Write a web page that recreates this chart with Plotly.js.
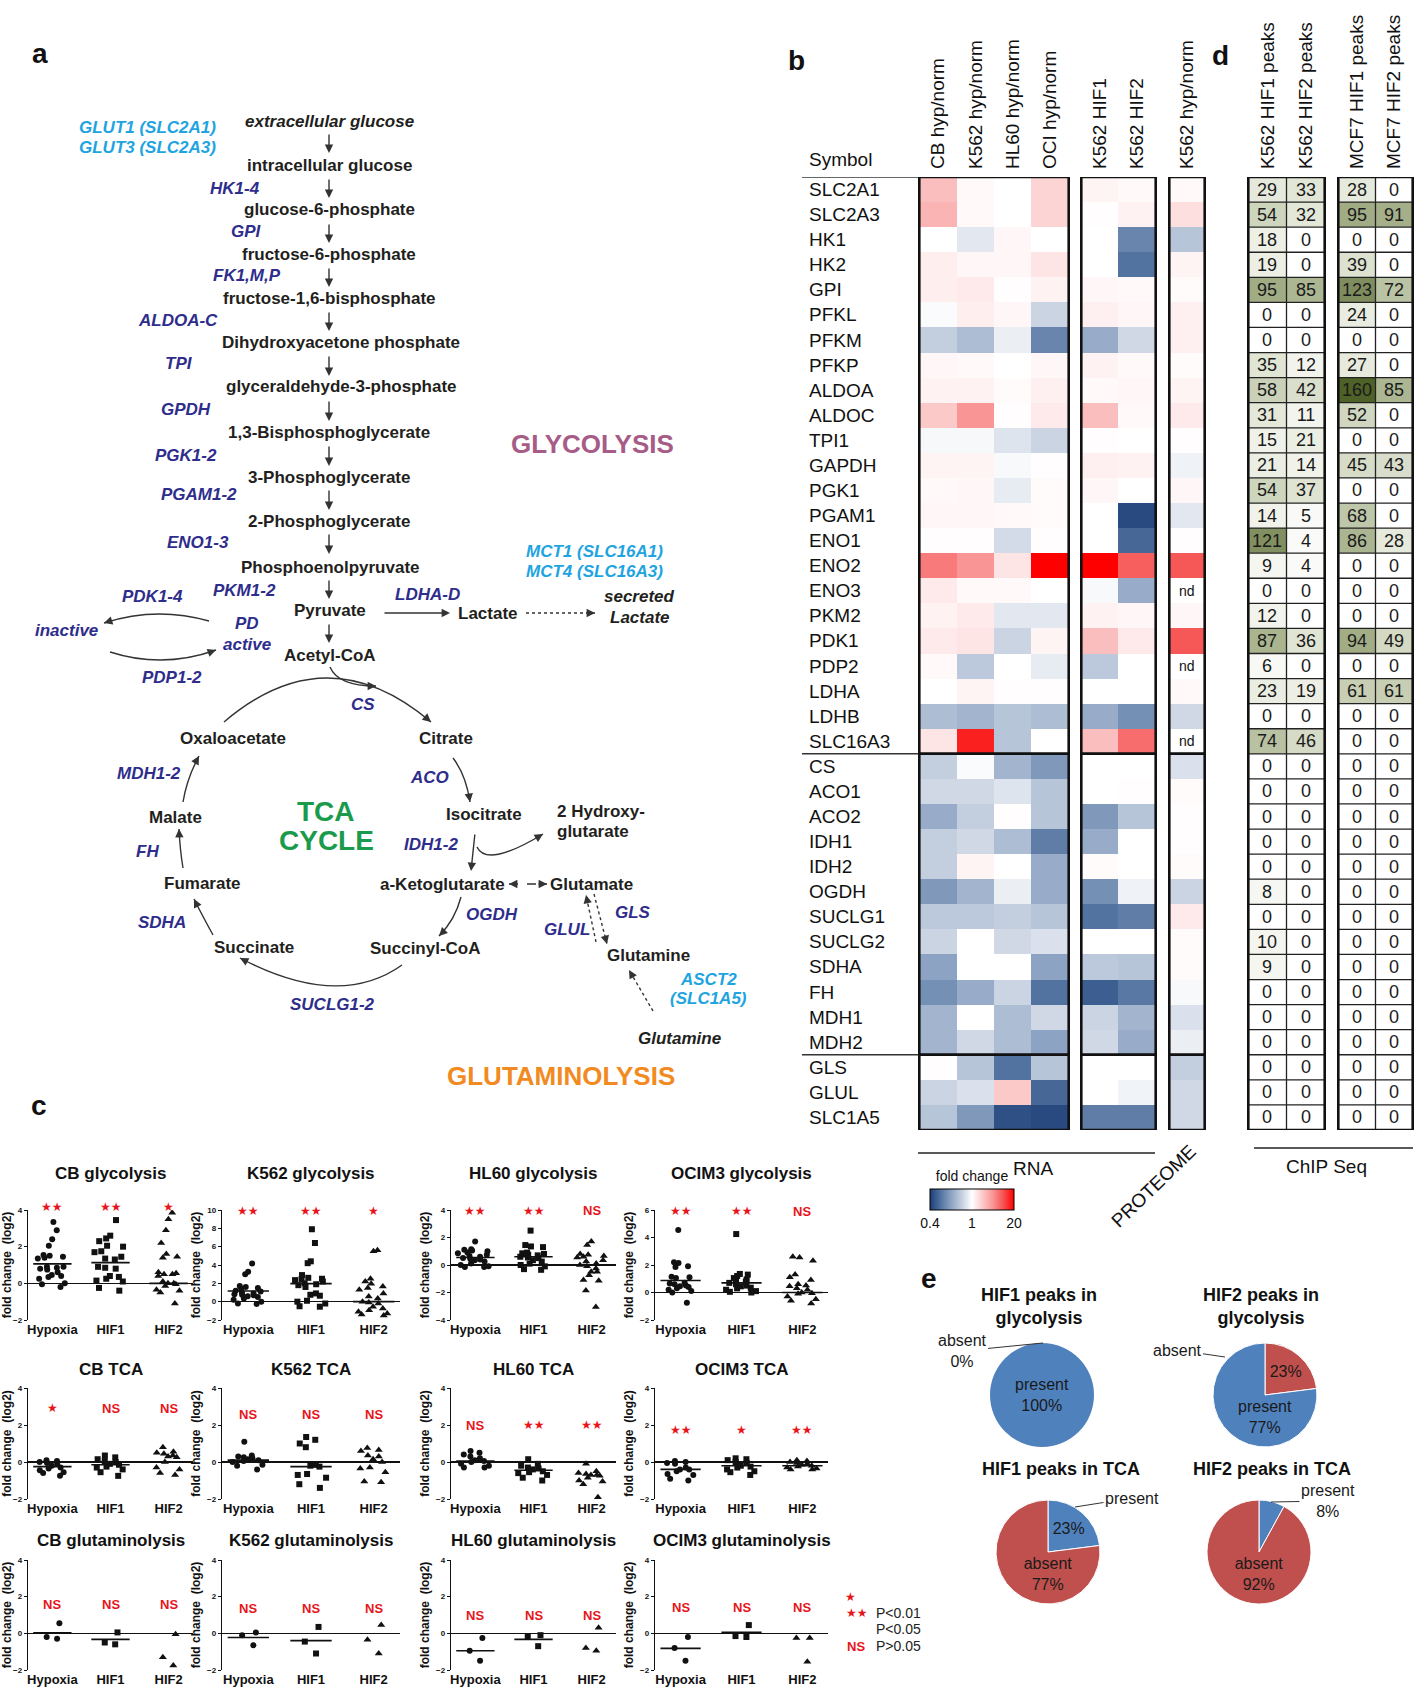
<!DOCTYPE html>
<html>
<head>
<meta charset="utf-8">
<script src="https://cdn.plot.ly/plotly-3.0.1.min.js"></script>
<style>html,body{margin:0;padding:0;background:#fff}</style>
</head>
<body>
<div id="chart" style="width:1418px;height:1691px"></div>
<script>
// ================= DATA =================
// Panel b: genes (rows) and heatmap values (log2 fold change)
const genes = ['SLC2A1','SLC2A3','HK1','HK2','GPI','PFKL','PFKM','PFKP','ALDOA','ALDOC','TPI1','GAPDH','PGK1','PGAM1','ENO1','ENO2','ENO3','PKM2','PDK1','PDP2','LDHA','LDHB','SLC16A3','CS','ACO1','ACO2','IDH1','IDH2','OGDH','SUCLG1','SUCLG2','SDHA','FH','MDH1','MDH2','GLS','GLUL','SLC1A5'];
const sectionSizes = [23, 12, 3]; // glycolysis, TCA, glutaminolysis
const rnaConditions = ['CB hyp/norm','K562 hyp/norm','HL60 hyp/norm','OCI hyp/norm'];
const hifConditions = ['K562 HIF1','K562 HIF2'];
const protConditions = ['K562 hyp/norm'];
const rnaCB   = [1.30,1.51,0,0.35,0.35,-0.03,-0.33,0.17,0.26,1.08,-0.05,0.22,0.13,0.17,0.04,2.59,0.43,0.26,0.43,0.13,0,-0.46,0.52,-0.33,-0.26,-0.59,-0.33,-0.33,-0.73,-0.37,-0.29,-0.66,-0.79,-0.53,-0.53,0.04,-0.29,-0.40];
const rnaK562 = [0.13,0.13,-0.16,0.17,0.43,0.35,-0.46,0.13,0.26,2.16,-0.05,0.22,0.17,0.17,0.04,2.16,0.13,0.43,0.52,-0.37,0.22,-0.53,3.89,-0.03,-0.26,-0.33,-0.26,0.22,-0.53,-0.37,0,0,-0.59,0,-0.26,-0.40,-0.20,-0.73];
const rnaHL60 = [0,0,0.17,0.17,0.04,0.17,-0.11,0,0.09,0.04,-0.18,-0.04,-0.13,0.13,-0.24,0.52,0.13,-0.16,-0.29,0,0.04,-0.40,-0.40,-0.53,-0.18,0.04,-0.46,0,-0.11,-0.33,-0.26,0,-0.29,-0.46,-0.46,-0.99,1.08,-1.21];
const rnaOCI  = [0.86,0.86,0,0.52,0.26,-0.29,-0.86,0.17,0.30,0.43,-0.29,0.04,0.09,0.09,0.04,4.32,0,-0.16,0.22,-0.13,0.04,-0.46,0,-0.73,-0.40,-0.40,-0.92,-0.59,-0.59,-0.40,-0.20,-0.66,-0.99,-0.26,-0.66,-0.40,-1.06,-1.25];
const k562HIF1 = [0.22,0.04,0,0,0.17,0.30,-0.59,0.26,0.13,1.30,0.04,0.30,0.17,0,0,4.32,-0.04,0.26,1.30,-0.37,0,-0.59,1.30,0,0,-0.73,-0.59,0.09,-0.79,-0.99,0,-0.37,-1.12,-0.29,-0.26,0,0,-0.92];
const k562HIF2 = [0.13,0.26,-0.86,-0.99,0.13,0.17,-0.26,0.13,0.17,0.13,0,0.26,0,-1.25,-1.06,3.02,-0.59,0.17,0.43,0,0,-0.79,2.81,0,0.04,-0.40,0,0,-0.09,-0.92,0,-0.40,-0.95,-0.53,-0.59,0,-0.08,-0.92];
const proteome = [0.13,0.65,-0.40,0.22,0.09,0.30,0.30,0.09,0.22,0.43,0.04,-0.09,0.17,-0.16,0.04,3.11,null,0.17,3.11,null,0.13,-0.26,null,-0.20,0.09,0.04,0.04,0.09,-0.29,0.43,0.09,0.09,-0.04,-0.20,-0.11,-0.33,-0.26,-0.26];

// Panel d: ChIP-seq peak counts
const chipK562Labels = ['K562 HIF1 peaks','K562 HIF2 peaks'];
const chipMCF7Labels = ['MCF7 HIF1 peaks','MCF7 HIF2 peaks'];
const chipK562HIF1 = [29,54,18,19,95,0,0,35,58,31,15,21,54,14,121,9,0,12,87,6,23,0,74,0,0,0,0,0,8,0,10,9,0,0,0,0,0,0];
const chipK562HIF2 = [33,32,0,0,85,0,0,12,42,11,21,14,37,5,4,4,0,0,36,0,19,0,46,0,0,0,0,0,0,0,0,0,0,0,0,0,0,0];
const chipMCF7HIF1 = [28,95,0,39,123,24,0,27,160,52,0,45,0,68,86,0,0,0,94,0,61,0,0,0,0,0,0,0,0,0,0,0,0,0,0,0,0,0];
const chipMCF7HIF2 = [0,91,0,0,72,0,0,0,85,0,0,43,0,0,28,0,0,0,49,0,61,0,0,0,0,0,0,0,0,0,0,0,0,0,0,0,0,0];

// Panel c: per-gene fold change (log2), groups Hypoxia / HIF1 / HIF2
const groupNames = ['Hypoxia','HIF1','HIF2'];
const cbGly = [[3.35,2.9,2.4,2.05,1.55,1.5,1.45,1.4,1.35,0.9,0.9,0.85,0.8,0.75,0.6,0.45,0.4,0.35,0.25,0.0,-0.05,-0.2],
               [3.45,2.6,2.45,2.3,2.05,2.0,1.75,1.7,1.45,1.35,1.3,0.9,0.85,0.8,0.4,0.35,0.25,0.15,0.1,-0.25,-0.4],
               [3.85,3.5,2.9,2.2,1.6,1.45,1.4,0.6,0.55,0.5,0.5,0.4,0.1,0.0,0.0,-0.05,-0.15,-0.35,-0.4,-0.5,-1.1]];
const cbGlyLine = [1.06,1.13,0.0];
const k562Gly = [[4.15,3.25,3.0,1.7,1.6,1.5,1.4,1.2,1.1,1.0,0.9,0.8,0.75,0.7,0.6,0.5,0.35,0.2,0.0,-0.2,-0.25],
                 [7.9,6.4,4.4,4.2,2.9,2.6,2.5,2.45,2.35,2.2,2.0,1.9,1.8,1.6,0.9,0.75,0.65,0.1,0.0,-0.2,-0.5,-0.55],
                 [5.6,5.5,2.5,2.2,1.95,1.65,1.5,1.3,0.9,0.55,0.35,0.0,-0.1,-0.2,-0.55,-0.75,-0.95,-1.1,-1.3,-1.4,-1.5]];
const k562GlyLine = [1.17,1.97,0.0];
const hl60Gly = [[1.7,1.15,1.1,1.05,1.0,0.9,0.85,0.75,0.65,0.6,0.5,0.45,0.4,0.35,0.25,0.1,0.0,-0.1,-0.15,-0.15],
                 [2.5,1.45,1.35,1.3,0.9,0.85,0.8,0.75,0.7,0.6,0.55,0.5,0.35,0.25,0.1,0.0,-0.1,-0.3,-0.35],
                 [1.7,1.45,0.8,0.75,0.65,0.6,0.55,0.35,0.25,0.1,0.0,-0.1,-0.25,-0.5,-0.5,-0.75,-1.1,-1.15,-1.85,-3.05]];
const hl60GlyLine = [0.54,0.6,0.0];
const ociGly = [[4.55,2.2,2.15,1.9,1.85,1.15,1.1,1.05,0.7,0.65,0.6,0.5,0.45,0.4,0.3,0.2,0.1,0.0,-0.75],
                [4.25,1.35,1.3,1.2,1.05,0.95,0.85,0.8,0.7,0.6,0.5,0.45,0.35,0.3,0.2,0.1,0.05,0.0],
                [2.6,2.55,2.3,1.3,1.1,0.9,0.6,0.5,0.45,0.3,0.2,0.0,-0.05,-0.1,-0.3,-0.5,-0.6,-0.8]];
const ociGlyLine = [0.87,0.7,0.0];
const cbTca = [[0.1,0.05,0.0,-0.05,-0.1,-0.2,-0.3,-0.35,-0.45,-0.55,-0.6,-0.75],
               [0.35,0.25,0.15,0.05,0.0,-0.1,-0.15,-0.25,-0.3,-0.4,-0.55,-0.75],
               [0.8,0.55,0.5,0.45,0.35,0.3,0.25,0.0,-0.3,-0.4,-0.6,-0.7]];
const cbTcaLine = [-0.25,-0.15,0.0];
const k562Tca = [[1.1,0.35,0.3,0.25,0.2,0.15,0.1,0.05,0.0,-0.15,-0.2,-0.4],
                 [1.35,1.2,1.0,0.8,-0.15,-0.2,-0.25,-0.65,-0.7,-0.85,-1.2,-1.4],
                 [0.75,0.65,0.6,0.35,0.3,0.15,0.0,-0.3,-0.35,-0.55,-1.05,-1.1]];
const k562TcaLine = [0.1,-0.25,0.0];
const hl60Tca = [[0.6,0.5,0.4,0.3,0.2,0.1,0.05,0.0,-0.1,-0.2,-0.3,-0.3],
                 [0.15,-0.1,-0.2,-0.3,-0.35,-0.4,-0.5,-0.55,-0.6,-0.7,-0.85,-1.0],
                 [-0.1,-0.5,-0.6,-0.65,-0.7,-0.7,-0.75,-0.85,-1.0,-1.05,-1.2,-1.9]];
const hl60TcaLine = [0.05,-0.45,null];
const ociTca = [[0.05,0.0,-0.05,-0.1,-0.3,-0.4,-0.4,-0.5,-0.65,-0.7,-0.9,-1.0],
                [0.2,0.15,0.1,0.0,-0.05,-0.2,-0.25,-0.3,-0.4,-0.5,-0.55,-0.7],
                [0.1,0.05,0.0,-0.05,-0.1,-0.15,-0.2,-0.25,-0.3,-0.35,-0.4,-0.4]];
const ociTcaLine = [-0.4,-0.2,-0.2];
const cbGln = [[0.55,-0.2,-0.3],[0.05,-0.5,-0.6],[-0.05,-1.3,-1.75]];
const cbGlnLine = [0.03,-0.33,null];
const k562Gln = [[0.05,-0.1,-0.65],[0.35,-0.45,-1.1],[0.45,-0.35,-1.1]];
const k562GlnLine = [-0.23,-0.4,null];
const hl60Gln = [[-0.25,-0.95,-1.5],[-0.1,-0.2,-0.7],[0.3,-0.8,-0.95]];
const hl60GlnLine = [-0.95,-0.33,null];
const ociGln = [[-0.2,-0.8,-1.5],[0.45,-0.15,-0.2],[-0.25,-0.25,-1.55]];
const ociGlnLine = [-0.82,0.05,null];
const sigGlyCB = ['★★','★★','★'], sigGlyK562 = ['★★','★★','★'], sigGlyHL60 = ['★★','★★','NS'], sigGlyOCI = ['★★','★★','NS'];
const sigTcaCB = ['★','NS','NS'], sigTcaK562 = ['NS','NS','NS'], sigTcaHL60 = ['NS','★★','★★'], sigTcaOCI = ['★★','★','★★'];
const sigGln = ['NS','NS','NS'];

// Panel e: pies
const pieHif1GlyLabels = ['present','absent'], pieHif1GlyValues = [100, 0];
const pieHif2GlyLabels = ['absent','present'], pieHif2GlyValues = [23, 77];
const pieHif1TcaLabels = ['present','absent'], pieHif1TcaValues = [23, 77];
const pieHif2TcaLabels = ['present','absent'], pieHif2TcaValues = [8, 92];

// ================= HELPERS =================
const W = 1418, H = 1691;
const FONT = 'Liberation Sans, Arial, Helvetica, sans-serif';
const px = x => x / W, py = y => 1 - y / H;
const domX = (a, b) => [a / W, b / W];
const domY = (top, bot) => [1 - bot / H, 1 - top / H];
const traces = [], annotations = [], shapes = [];
const layout = {
  width: W, height: H, margin: {l: 0, r: 0, t: 0, b: 0},
  paper_bgcolor: '#fff', plot_bgcolor: 'rgba(0,0,0,0)', showlegend: false,
  font: {family: FONT, color: '#222'}, annotations, shapes
};
function txt(text, x, y, opts) {
  annotations.push(Object.assign({text, x: px(x), y: py(y), xref: 'paper', yref: 'paper', showarrow: false,
    xanchor: 'center', yanchor: 'middle', font: {family: FONT, size: 17, color: '#222'}}, opts || {}));
}
function arrow(x1, y1, x2, y2, extra) {
  annotations.push(Object.assign({x: px(x2), y: py(y2), xref: 'paper', yref: 'paper', ax: x1 - x2, ay: y1 - y2,
    text: '', showarrow: true, arrowhead: 2, arrowsize: 1.2, arrowwidth: 1.4, arrowcolor: '#333', standoff: 0}, extra || {}));
}
function headAt(x, y, dirx, diry) { const L = Math.hypot(dirx, diry); arrow(x - 10 * dirx / L, y - 10 * diry / L, x, y); }
function curve(x0, y0, cx, cy, x1, y1) {
  shapes.push({type: 'path', xref: 'paper', yref: 'paper', fillcolor: 'rgba(0,0,0,0)',
    path: `M${px(x0)},${py(y0)} Q${px(cx)},${py(cy)} ${px(x1)},${py(y1)}`, line: {color: '#333', width: 1.4}});
  headAt(x1, y1, x1 - cx, y1 - cy);
}
function dline(x0, y0, x1, y1, dash, head) {
  shapes.push({type: 'line', xref: 'paper', yref: 'paper', x0: px(x0), y0: py(y0), x1: px(x1), y1: py(y1), line: {color: '#333', width: 1.4, dash}});
  if (head) headAt(x1, y1, x1 - x0, y1 - y0);
}

// ================= PANEL LETTERS =================
[['a', 40, 54], ['b', 796, 61], ['c', 39, 1105], ['d', 1220, 56], ['e', 929, 1278]].forEach(p =>
  txt('<b>' + p[0] + '</b>', p[1], p[2], {font: {family: FONT, size: 28, color: '#111'}}));

// ================= PANEL a: pathway diagram =================
const styleMap = {
  m:   ['<b>', '</b>', '#231f20', 17], mi: ['<b><i>', '</i></b>', '#231f20', 17],
  e:   ['<b><i>', '</i></b>', '#2e2d8c', 17], c: ['<b><i>', '</i></b>', '#1ea4e0', 17],
  tca: ['<b>', '</b>', '#1a9b4b', 28], gly: ['<b>', '</b>', '#a65c86', 26], gln: ['<b>', '</b>', '#f28a22', 26]
};
const diagramLabels = [
  ['extracellular glucose',329,121,'mi'],['GLUT1 (SLC2A1)',77,127,'c','left'],['GLUT3 (SLC2A3)',77,147,'c','left'],
  ['intracellular glucose',329,165,'m'],['HK1-4',235,188,'e'],['glucose-6-phosphate',329,210,'m'],['GPI',246,232,'e'],
  ['fructose-6-phosphate',329,254,'m'],['FK1,M,P',247,275,'e'],['fructose-1,6-bisphosphate',329,298,'m'],['ALDOA-C',178,320,'e'],
  ['Dihydroxyacetone phosphate',341,343,'m'],['TPI',179,364,'e'],['glyceraldehyde-3-phosphate',341,387,'m'],['GPDH',186,410,'e'],
  ['1,3-Bisphosphoglycerate',329,432,'m'],['PGK1-2',186,455,'e'],['3-Phosphoglycerate',329,477,'m'],['PGAM1-2',199,495,'e'],
  ['2-Phosphoglycerate',329,522,'m'],['ENO1-3',198,543,'e'],['Phosphoenolpyruvate',330,567,'m'],
  ['MCT1 (SLC16A1)',594,551,'c'],['MCT4 (SLC16A3)',594,571,'c'],['PKM1-2',244,590,'e'],['PDK1-4',152,597,'e'],['LDHA-D',428,594,'e'],
  ['Pyruvate',330,610,'m'],['Lactate',488,613,'m'],['secreted',639,596,'mi'],['Lactate',640,617,'mi'],
  ['PD',247,623,'e'],['active',247,644,'e'],['inactive',66,630,'e'],['PDP1-2',172,677,'e'],['Acetyl-CoA',330,655,'m'],
  ['CS',363,704,'e'],['Oxaloacetate',233,738,'m'],['Citrate',446,738,'m'],['ACO',430,777,'e'],['Isocitrate',484,814,'m'],
  ['2 Hydroxy-',555,811,'m','left'],['glutarate',555,831,'m','left'],['IDH1-2',431,844,'e'],['a-Ketoglutarate',442,884,'m'],
  ['Glutamate',591,884,'m'],['GLS',633,912,'e'],['GLUL',567,929,'e'],['Glutamine',648,955,'m'],['OGDH',492,914,'e'],
  ['Succinyl-CoA',426,948,'m'],['Succinate',254,947,'m'],['SDHA',162,922,'e'],['Fumarate',202,883,'m'],['FH',147,851,'e'],
  ['Malate',175,817,'m'],['MDH1-2',149,774,'e'],['SUCLG1-2',332,1004,'e'],['ASCT2',708,979,'c'],['(SLC1A5)',708,998,'c'],
  ['Glutamine',679,1038,'mi'],['TCA',326,811,'tca'],['CYCLE',326,840,'tca'],['GLYCOLYSIS',592,444,'gly'],['GLUTAMINOLYSIS',561,1076,'gln']
];
diagramLabels.forEach(d => {
  const s = styleMap[d[3]];
  txt(s[0] + d[0] + s[1], d[1], d[2], {xanchor: d[4] || 'center', font: {family: FONT, size: s[3], color: s[2]}});
});
const straightArrows = [[329,133,329,153],[329,178,329,198],[329,223,329,243],[329,267,329,287],[329,311,329,331],
  [329,355,329,376],[329,400,329,421],[329,445,329,466],[329,489,329,510],[329,533,329,554],[329,579,329,599],
  [329,623,329,643],[383,613,450,613],[475,833,471,871]];
straightArrows.forEach(a => arrow(a[0], a[1], a[2], a[3]));
const curvedArrows = [[209,621,156,606,104,623],[110,652,163,669,216,650],[330,667,338,686,376,686],
  [224,722,327,634,431,722],[453,758,466,775,470,802],[477,847,487,868,543,834],[461,897,455,920,439,936],
  [402,965,339,1010,240,958],[213,935,202,915,194,899],[183,868,180,850,179,829],[183,802,187,778,199,756]];
curvedArrows.forEach(c => curve(...c));
dline(526, 613, 595, 613, 'dot', true);
dline(596, 942, 586, 895, 'dot', true);
dline(594, 894, 607, 944, 'dot', true);
dline(653, 1011, 629, 970, 'dot', true);
dline(509, 884, 547, 884, 'dash', true);
headAt(509, 884, -1, 0);

// ================= PANEL b: heatmaps =================
const lo = -Math.log2(0.4), hi = Math.log2(20);
const toColor = v => v === null ? null : Math.max(-1, Math.min(1, v < 0 ? v / lo : v / hi));
const fcScale = [[0,'#1c3f78'],[0.125,'#52729f'],[0.25,'#8ca3c3'],[0.375,'#c3cedf'],[0.5,'#ffffff'],
                 [0.625,'#fcc9c9'],[0.75,'#f99595'],[0.875,'#f65050'],[1,'#ff0000']];
const heatY = domY(177, 1130);
const matrix = cols => genes.map((g, i) => cols.map(c => c[i]));
const hmBlocks = [
  {ax: '', cols: rnaConditions, data: [rnaCB, rnaK562, rnaHL60, rnaOCI], dom: [918, 1070]},
  {ax: '2', cols: hifConditions, data: [k562HIF1, k562HIF2], dom: [1080, 1157]},
  {ax: '3', cols: protConditions, data: [proteome], dom: [1168, 1206]}
];
const xHeatAxis = dom => ({domain: domX(dom[0], dom[1]), anchor: 'y', side: 'top', type: 'category', tickangle: -90,
  showgrid: false, zeroline: false, showline: false, ticks: '', ticklabelstandoff: 7,
  tickfont: {family: FONT, size: 19, color: '#111'}, fixedrange: true});
layout.yaxis = {domain: heatY, anchor: 'x', type: 'category', categoryorder: 'array', categoryarray: genes,
  range: [genes.length - 0.5, -0.5], showticklabels: false, showgrid: false, zeroline: false, showline: false, ticks: '', fixedrange: true};
hmBlocks.forEach((b, k) => {
  traces.push({type: 'heatmap', x: b.cols, y: genes, z: matrix(b.data).map(r => r.map(toColor)), zmin: -1, zmax: 1,
    colorscale: fcScale, xaxis: 'x' + b.ax, yaxis: 'y', hoverinfo: 'skip', showscale: k === 0,
    colorbar: {orientation: 'h', x: px(972), xanchor: 'center', y: py(1200), yanchor: 'middle', len: 84, lenmode: 'pixels',
      thickness: 21, thicknessmode: 'pixels', outlinewidth: 1, outlinecolor: '#000', tickvals: [-1, 0, 1], ticktext: ['0.4', '1', '20'],
      ticks: '', tickfont: {family: FONT, size: 14, color: '#111'}, xpad: 0, ypad: 0,
      title: {text: 'fold change', side: 'top', font: {family: FONT, size: 14, color: '#111'}}}});
  layout['xaxis' + b.ax] = xHeatAxis(b.dom);
});
// section boxes
let start = 0;
const bounds = [];
sectionSizes.forEach(n => { bounds.push([start, start + n - 1]); start += n; });
hmBlocks.forEach(b => bounds.forEach(s => shapes.push({type: 'rect', xref: 'x' + b.ax, yref: 'y', layer: 'above',
  x0: -0.5, x1: b.cols.length - 0.5, y0: s[0] - 0.5, y1: s[1] + 0.5, line: {color: '#111', width: 2.6}, fillcolor: 'rgba(0,0,0,0)'})));
// label column separators
[-0.5].concat(bounds.slice(0, -1).map(s => s[1] + 0.5)).forEach(yv => shapes.push({type: 'line', xref: 'paper', yref: 'y',
  x0: px(802), x1: px(918), y0: yv, y1: yv, line: {color: '#333', width: 1.6}}));
genes.forEach((g, i) => annotations.push({text: g, x: px(807), y: i, xref: 'paper', yref: 'y', xanchor: 'left', yanchor: 'middle',
  showarrow: false, font: {family: FONT, size: 19, color: '#111'}}));
txt('Symbol', 807, 160, {xanchor: 'left', font: {family: FONT, size: 19, color: '#111'}});
proteome.forEach((v, i) => { if (v === null) annotations.push({text: 'nd', x: 0, y: i, xref: 'x3', yref: 'y', showarrow: false,
  font: {family: FONT, size: 14, color: '#111'}}); });
shapes.push({type: 'line', xref: 'paper', yref: 'paper', x0: px(918), x1: px(1155), y0: py(1153), y1: py(1153), line: {color: '#222', width: 1.4}});
txt('RNA', 1033, 1168, {font: {family: FONT, size: 19, color: '#111'}});
txt('PROTEOME', 1153, 1186, {textangle: -44, font: {family: FONT, size: 19, color: '#111'}});

// ================= PANEL d: ChIP tables =================
const chipScale = [[0,'#ffffff'],[0.06,'#f4f5ef'],[0.2,'#e3e7d8'],[0.35,'#ccd3bb'],[0.55,'#a9b38e'],[0.75,'#839163'],[1,'#4e6126']];
const chipBlocks = [
  {ax: '4', cols: chipK562Labels, data: [chipK562HIF1, chipK562HIF2], dom: [1247, 1326]},
  {ax: '5', cols: chipMCF7Labels, data: [chipMCF7HIF1, chipMCF7HIF2], dom: [1337, 1414]}
];
chipBlocks.forEach(b => {
  traces.push({type: 'heatmap', x: b.cols, y: genes, z: matrix(b.data), zmin: 0, zmax: 160, colorscale: chipScale,
    showscale: false, xaxis: 'x' + b.ax, yaxis: 'y', hoverinfo: 'skip', texttemplate: '%{z}',
    textfont: {family: FONT, size: 18, color: '#1a1a1a'}});
  layout['xaxis' + b.ax] = xHeatAxis(b.dom);
  for (let c = 0; c < b.cols.length - 1; c++) shapes.push({type: 'line', xref: 'x' + b.ax, yref: 'y', layer: 'above',
    x0: c + 0.5, x1: c + 0.5, y0: -0.5, y1: genes.length - 0.5, line: {color: '#222', width: 1.3}});
  for (let r = 0; r < genes.length - 1; r++) shapes.push({type: 'line', xref: 'x' + b.ax, yref: 'y', layer: 'above',
    x0: -0.5, x1: b.cols.length - 0.5, y0: r + 0.5, y1: r + 0.5, line: {color: '#222', width: 1.3}});
  shapes.push({type: 'rect', xref: 'x' + b.ax, yref: 'y', layer: 'above', x0: -0.5, x1: b.cols.length - 0.5,
    y0: -0.5, y1: genes.length - 0.5, line: {color: '#111', width: 2.6}, fillcolor: 'rgba(0,0,0,0)'});
});
shapes.push({type: 'line', xref: 'paper', yref: 'paper', x0: px(1254), x1: px(1413), y0: py(1148), y1: py(1148), line: {color: '#222', width: 1.4}});
txt('ChIP Seq', 1326, 1166, {font: {family: FONT, size: 19, color: '#111'}});

// ================= PANEL c: strip plots =================
const cPanels = [
  ['CB glycolysis', cbGly, cbGlyLine, sigGlyCB, 4.15, [-2, 4]],
  ['K562 glycolysis', k562Gly, k562GlyLine, sigGlyK562, 9.9, [-2, 10]],
  ['HL60 glycolysis', hl60Gly, hl60GlyLine, sigGlyHL60, 3.95, [-4, 4]],
  ['OCIM3 glycolysis', ociGly, ociGlyLine, sigGlyOCI, 5.9, [-2, 6]],
  ['CB TCA', cbTca, cbTcaLine, sigTcaCB, 2.9, [-2, 4]],
  ['K562 TCA', k562Tca, k562TcaLine, sigTcaK562, 2.55, [-2, 4]],
  ['HL60 TCA', hl60Tca, hl60TcaLine, sigTcaHL60, 2.0, [-2, 4]],
  ['OCIM3 TCA', ociTca, ociTcaLine, sigTcaOCI, 1.75, [-2, 4]],
  ['CB glutaminolysis', cbGln, cbGlnLine, sigGln, 1.6, [-2, 4]],
  ['K562 glutaminolysis', k562Gln, k562GlnLine, sigGln, 1.35, [-2, 4]],
  ['HL60 glutaminolysis', hl60Gln, hl60GlnLine, sigGln, 1.0, [-2, 4]],
  ['OCIM3 glutaminolysis', ociGln, ociGlnLine, sigGln, 1.4, [-2, 4]]
];
const colPx = [[28, 193], [222, 400], [451, 616], [655, 828]];
const rowPx = [[1210, 1320], [1388, 1499], [1560, 1670]];
const titleY = [1173, 1369, 1540];
const symbols = ['circle', 'square', 'triangle-up'];
const symSize = [6, 6, 7];
cPanels.forEach((p, k) => {
  const r = Math.floor(k / 4), c = k % 4, n = 6 + k;
  const xa = 'x' + n, ya = 'y' + n;
  layout['xaxis' + n] = {domain: domX(colPx[c][0], colPx[c][1]), anchor: ya, range: [-0.42, 2.42], tickvals: [0, 1, 2],
    ticktext: groupNames.map(g => '<b>' + g + '</b>'), ticks: '', showline: false, showgrid: false, zeroline: false,
    tickfont: {family: FONT, size: 13, color: '#111'}, fixedrange: true};
  layout['yaxis' + n] = {domain: domY(rowPx[r][0], rowPx[r][1]), anchor: xa, range: p[5], dtick: 2, tick0: 0,
    showline: true, linecolor: '#111', linewidth: 1.2, ticks: 'outside', ticklen: 3, tickwidth: 1, tickcolor: '#111',
    tickfont: {family: FONT, size: 8, color: '#111', weight: 700}, showgrid: false, zeroline: true, zerolinecolor: '#111',
    zerolinewidth: 1.6, fixedrange: true,
    title: {text: '<b>fold change\u00a0\u00a0(log2)</b>', font: {family: FONT, size: 12, color: '#111'}, standoff: 3}};
  const nPts = p[1][0].length;
  const sigFrac = (p[4] - p[5][0]) / (p[5][1] - p[5][0]);
  p[1].forEach((vals, g) => {
    traces.push({type: 'box', y: vals, x0: g, xaxis: xa, yaxis: ya, boxpoints: 'all', jitter: nPts < 5 ? 0.5 : 1, pointpos: 0, width: 0.62,
      fillcolor: 'rgba(0,0,0,0)', line: {width: 0, color: 'rgba(0,0,0,0)'}, whiskerwidth: 0, hoverinfo: 'skip',
      marker: {symbol: symbols[g], size: symSize[g], color: '#111', line: {width: 0}}});
    if (p[2][g] !== null) traces.push({type: 'scatter', mode: 'lines', x: [g - 0.33, g + 0.33], y: [p[2][g], p[2][g]],
      xaxis: xa, yaxis: ya, line: {color: '#111', width: 1.6}, hoverinfo: 'skip'});
    const s = p[3][g];
    annotations.push({text: s === 'NS' ? '<b>NS</b>' : s, x: g, y: sigFrac, xref: xa, yref: ya + ' domain', showarrow: false,
      yanchor: 'middle', font: {family: s === 'NS' ? FONT : 'DejaVu Sans, ' + FONT, size: s === 'NS' ? 13 : 12, color: '#e8141b'}});
  });
  txt('<b>' + p[0] + '</b>', (colPx[c][0] + colPx[c][1]) / 2, titleY[r], {font: {family: FONT, size: 17, color: '#111'}});
});
// significance legend
const red = {family: 'DejaVu Sans, ' + FONT, size: 12, color: '#e8141b'};
txt('★', 851, 1597, {font: red});
txt('★★', 857, 1613, {font: red});
txt('<b>NS</b>', 856, 1646, {font: {family: FONT, size: 13, color: '#e8141b'}});
['P<0.01', 'P<0.05', 'P>0.05'].forEach((t, i) => txt(t, 874, [1613, 1629, 1646][i], {xanchor: 'left', font: {family: FONT, size: 14, color: '#222'}}));

// ================= PANEL e: pies =================
const BLUE = '#4f81bd', RED = '#c0504d';
const pct = (vals, i) => Math.round(100 * vals[i] / vals.reduce((a, b) => a + b, 0)) + '%';
const pies = [
  {labels: pieHif1GlyLabels, values: pieHif1GlyValues, dir: 'clockwise', cx: 1042, cy: 1395, tt: ['%{label}<br>%{percent}', ''],
   title: 'HIF1 peaks in<br>glycolysis', tx: 1039, ty: 1306, out: {i: 1, head: [1043, 1343], text: [962, 1351], pctToo: true}},
  {labels: pieHif2GlyLabels, values: pieHif2GlyValues, dir: 'counterclockwise', cx: 1265, cy: 1395, tt: ['%{percent}', '%{label}<br>%{percent}'],
   title: 'HIF2 peaks in<br>glycolysis', tx: 1261, ty: 1306, out: {i: 0, head: [1225, 1357], text: [1177, 1350], pctToo: false}},
  {labels: pieHif1TcaLabels, values: pieHif1TcaValues, dir: 'clockwise', cx: 1048, cy: 1552, tt: ['%{percent}', '%{label}<br>%{percent}'],
   title: 'HIF1 peaks in TCA', tx: 1061, ty: 1469, out: {i: 0, head: [1075, 1507], text: [1132, 1498], pctToo: false}},
  {labels: pieHif2TcaLabels, values: pieHif2TcaValues, dir: 'clockwise', cx: 1259, cy: 1552, tt: ['', '%{label}<br>%{percent}'],
   title: 'HIF2 peaks in TCA', tx: 1272, ty: 1469, out: {i: 0, head: [1271, 1502], text: [1328, 1501], pctToo: true}}
];
const R = 52;
pies.forEach(p => {
  const hasZero = p.values.some(v => v === 0);
  traces.push({type: 'pie', labels: p.labels, values: p.values, sort: false, direction: p.dir, rotation: 0,
    domain: {x: domX(p.cx - R, p.cx + R), y: domY(p.cy - R, p.cy + R)},
    marker: {colors: p.labels.map(l => l === 'present' ? BLUE : RED), line: {color: '#fff', width: hasZero ? 0 : 1}},
    textposition: 'inside', insidetextorientation: 'horizontal', texttemplate: p.tt, automargin: false,
    textfont: {family: FONT, size: 16, color: '#1a1a1a'}, hoverinfo: 'skip', showlegend: false});
  txt('<b>' + p.title + '</b>', p.tx, p.ty, {font: {family: FONT, size: 18, color: '#111'}});
  const o = p.out;
  const label = p.labels[o.i] + (o.pctToo ? '<br>' + pct(p.values, o.i) : '');
  annotations.push({text: label, x: px(o.head[0]), y: py(o.head[1]), xref: 'paper', yref: 'paper', showarrow: true,
    ax: o.text[0] - o.head[0], ay: o.text[1] - o.head[1], arrowhead: 0, arrowwidth: 1, arrowcolor: '#333', standoff: 0,
    font: {family: FONT, size: 16, color: '#1a1a1a'}});
});

Plotly.newPlot('chart', traces, layout, {displayModeBar: false, staticPlot: true});
</script>
</body>
</html>
